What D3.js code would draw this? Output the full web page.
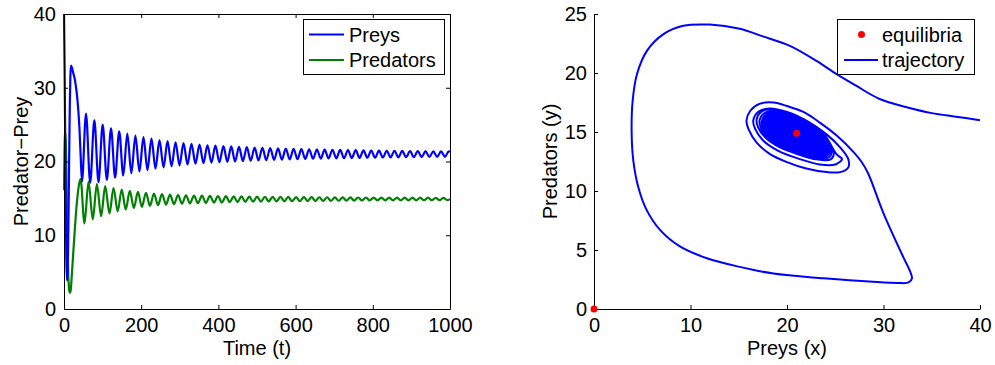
<!DOCTYPE html>
<html>
<head>
<meta charset="utf-8">
<script src="https://cdn.jsdelivr.net/npm/d3@7"></script>
<style>
  body { margin: 0; background: #fff; }
  text { font-family: "Liberation Sans", Arial, Helvetica, sans-serif; }
</style>
</head>
<body>
<div id="chart"></div>
<script>
// ---- left panel: time series, read as start transient + peaks/troughs ----
const preyStartT = [0, 1.5, 3, 4.5, 6, 7.5, 9, 10.5, 12, 13.5, 15, 16.5, 18, 20, 24, 28.5, 33, 37, 40, 43];
const preyStartV = [40, 33, 24, 14, 7, 3.9, 4.6, 8, 14, 21, 27.5, 31.5, 33, 32.8, 32, 31, 29.3, 27, 24.5, 21];
const preyPeakT = [57, 78.6, 100.2, 121.8, 143, 164, 185, 205.8, 226.6, 247.4, 268.2, 289, 309.6, 330.3, 351, 371.6, 392.3, 413, 433.2, 453.4, 473.6, 493.8, 514, 534.2, 554.4, 574.6, 594.8, 615, 635.1, 655.2, 675.3, 695.4, 715.5, 735.6, 755.7, 775.8, 795.9, 816, 836.1, 856.2, 876.3, 896.4, 916.5, 936.6, 956.7, 976.8, 996.9];
const preyPeakV = [26.5, 25.6, 25.0, 24.5, 24.1, 23.8, 23.5, 23.3, 23.1, 22.9, 22.75, 22.6, 22.5, 22.4, 22.3, 22.2, 22.15, 22.1, 22.05, 22.0, 21.95, 21.9, 21.86, 21.82, 21.78, 21.75, 21.72, 21.69, 21.66, 21.63, 21.61, 21.59, 21.57, 21.55, 21.53, 21.51, 21.49, 21.48, 21.46, 21.45, 21.43, 21.42, 21.41, 21.4, 21.39, 21.38, 21.37];
const preyTroughT = [46.6, 67.8, 89.4, 111, 132.4, 153.5, 174.5, 195.4, 216.2, 237, 257.8, 278.6, 299.3, 320, 340.6, 361.3, 382, 402.6, 423.1, 443.3, 463.5, 483.7, 503.9, 524.1, 544.3, 564.5, 584.7, 604.9, 625, 645.1, 665.2, 685.3, 705.4, 725.5, 745.6, 765.7, 785.8, 805.9, 826, 846.1, 866.2, 886.3, 906.4, 926.5, 946.6, 966.7, 986.8];
const preyTroughV = [17.3, 17.1, 17.2, 17.5, 17.8, 18.1, 18.4, 18.65, 18.85, 19.05, 19.2, 19.35, 19.48, 19.6, 19.7, 19.78, 19.85, 19.9, 19.95, 20.0, 20.05, 20.1, 20.14, 20.18, 20.22, 20.25, 20.28, 20.31, 20.34, 20.37, 20.39, 20.41, 20.43, 20.45, 20.47, 20.49, 20.51, 20.52, 20.54, 20.55, 20.57, 20.58, 20.59, 20.6, 20.61, 20.62, 20.63];
const preyEnd = [1000, 21.3];

const predStartT = [0, 1, 2.5, 3.5, 5, 6.5, 8, 9.5, 11, 13, 15, 17, 20, 23, 26, 29, 32, 35, 38, 43];
const predStartV = [16.1, 20.5, 23.6, 24.0, 22, 17.5, 12, 7.5, 4.6, 2.8, 2.2, 2.4, 4.4, 6.8, 9.2, 11.5, 13.6, 15.3, 16.6, 17.6];
const predPeakT = [63.5, 85.1, 106.7, 128.3, 149.5, 170.5, 191.5, 212.3, 233.1, 253.9, 274.7, 295.5, 316.1, 336.8, 357.5, 378.1, 398.8, 419.5, 439.7, 459.9, 480.1, 500.3, 520.5, 540.7, 560.9, 581.1, 601.3, 621.5, 641.6, 661.7, 681.8, 701.9, 722, 742.1, 762.2, 782.3, 802.4, 822.5, 842.6, 862.7, 882.8, 902.9, 923, 943.1, 963.2, 983.3];
const predPeakV = [17.25, 16.95, 16.65, 16.4, 16.2, 16.02, 15.88, 15.76, 15.66, 15.58, 15.51, 15.45, 15.42, 15.39, 15.36, 15.34, 15.32, 15.3, 15.28, 15.27, 15.25, 15.24, 15.22, 15.21, 15.2, 15.19, 15.18, 15.17, 15.16, 15.15, 15.15, 15.14, 15.13, 15.13, 15.12, 15.12, 15.11, 15.11, 15.1, 15.1, 15.1, 15.09, 15.09, 15.09, 15.08, 15.08];
const predTroughT = [53, 74.6, 96.2, 117.8, 139, 160, 181, 201.8, 222.6, 243.4, 264.2, 285, 305.6, 326.3, 347, 367.6, 388.3, 409, 429.2, 449.4, 469.6, 489.8, 510, 530.2, 550.4, 570.6, 590.8, 611, 631.1, 651.2, 671.3, 691.4, 711.5, 731.6, 751.7, 771.8, 791.9, 812, 832.1, 852.2, 872.3, 892.4, 912.5, 932.6, 952.7, 972.8, 992.9];
const predTroughV = [11.6, 12.15, 12.6, 12.95, 13.25, 13.5, 13.7, 13.85, 13.98, 14.08, 14.16, 14.23, 14.27, 14.32, 14.36, 14.4, 14.43, 14.45, 14.48, 14.5, 14.52, 14.54, 14.56, 14.58, 14.6, 14.61, 14.62, 14.63, 14.64, 14.65, 14.66, 14.67, 14.68, 14.69, 14.7, 14.71, 14.71, 14.72, 14.72, 14.73, 14.73, 14.74, 14.74, 14.75, 14.75, 14.75, 14.76];
const predEnd = [1000, 14.9];

const timeTicks = [0, 200, 400, 600, 800, 1000];
const popTicks = [0, 10, 20, 30, 40];

// ---- right panel: phase plane ----
const eqX = [0, 21.0];
const eqY = [0, 14.9];
// traced trajectory: start at (40,16), the big excursion and the first two loops
const trajectory = [
  [40.0,16.0],[37.5,16.3],[35.0,16.6],[32.4,17.1],[29.6,17.8],[27.2,18.9],[25.15,19.9],[23.1,21.0],
  [20.3,22.3],[17.5,23.1],[15.1,23.75],[12.0,24.1],[9.25,24.0],[7.2,23.3],[5.5,21.9],[4.45,19.9],
  [4.0,17.6],[3.9,15.0],[4.07,12.6],[4.6,10.3],[5.45,8.4],[6.84,6.7],[8.9,5.3],[11.7,4.3],
  [15.1,3.57],[18.6,3.0],[23.8,2.6],[28.9,2.3],[31.6,2.2],[32.6,2.25],[32.95,2.6],[32.7,3.3],
  [32.05,4.4],[30.0,8.1],[28.4,11.5],[27.7,12.5],[26.9,13.3],[25.15,14.7],[23.4,15.8],[21.7,16.7],
  [20.0,17.2],[18.6,17.5],[17.2,17.4],[16.2,16.8],[15.8,15.96],[16.0,15.26],[16.86,14.1],[18.2,13.15],
  [20.0,12.45],[22.0,11.9],[24.1,11.6],[25.5,11.6],[26.35,12.0],[26.35,12.7],[25.5,13.7],[24.1,14.8],
  [22.0,15.96],[20.0,16.7],[18.2,17.0],[17.0,16.7],[16.5,15.96],[16.7,15.26],[17.5,14.3],[19.1,13.4],
  [21.35,12.7],[23.4,12.25],[25.0,12.25],[25.7,12.7]
];
// inner loops: one loop outline (per unit prey amplitude), and the loop sizes
const loopCenter = [21.0, 14.8];
const loopShapeX = [1.0, 0.65, 0.2, -0.24, -0.63, -0.89, -1.0, -0.96, -0.78, -0.43, 0.05, 0.5, 0.85];
const loopShapeY = [-0.41, 0.04, 0.30, 0.455, 0.52, 0.455, 0.30, 0.14, -0.065, -0.26, -0.41, -0.51, -0.51];
const loopAmp = [4.15, 3.85, 3.62, 3.45, 3.3, 3.15, 3.0, 2.82, 2.64, 2.46, 2.28, 2.1, 1.92, 1.74, 1.56, 1.38, 1.2, 1.02, 0.85, 0.68, 0.52, 0.38];

const preyTicks = [0, 10, 20, 30, 40];
const predTicks = [0, 5, 10, 15, 20, 25];

// ---------------------------------------------------------------
const W = 995, H = 365, FS = 20;
const svg = d3.select("#chart").append("svg").attr("width", W).attr("height", H);

function merge(ts, vs, end) {
  const pts = [];
  ts.forEach((arr, i) => arr.forEach((t, j) => pts.push([t, vs[i][j]])));
  pts.push(end);
  return pts.sort((a, b) => a[0] - b[0]);
}
function styleAxis(g) {
  g.selectAll("path, line").attr("stroke", "#000");
  g.selectAll("text").attr("font-size", FS).attr("fill", "#000")
    .attr("font-family", "Liberation Sans, Arial, Helvetica, sans-serif");
}
const fmt = d3.format("d");

// left panel
const L = {left: 64, right: 450, top: 14, bottom: 309};
const xT = d3.scaleLinear().domain([0, 1000]).range([L.left, L.right]);
const yP = d3.scaleLinear().domain([0, 40]).range([L.bottom, L.top]);

const preyPts = merge([preyStartT, preyPeakT, preyTroughT], [preyStartV, preyPeakV, preyTroughV], preyEnd);
const predPts = merge([predStartT, predPeakT, predTroughT], [predStartV, predPeakV, predTroughV], predEnd);

const lineT = d3.line().x(d => xT(d[0])).y(d => yP(d[1])).curve(d3.curveMonotoneX);

svg.append("defs").append("clipPath").attr("id", "clipL")
  .append("rect").attr("x", L.left - 1).attr("y", L.top - 2)
  .attr("width", L.right - L.left + 1).attr("height", L.bottom - L.top + 2);

svg.append("path").datum(predPts).attr("clip-path", "url(#clipL)")
  .attr("fill", "none").attr("stroke", "#008000").attr("stroke-width", 2.2)
  .attr("stroke-linejoin", "round").attr("d", lineT);
svg.append("path").datum(preyPts).attr("clip-path", "url(#clipL)")
  .attr("fill", "none").attr("stroke", "#0000ff").attr("stroke-width", 2.2)
  .attr("stroke-linejoin", "round").attr("d", lineT);

svg.append("g").attr("transform", `translate(0,${L.bottom})`)
  .call(d3.axisBottom(xT).tickValues(timeTicks).tickFormat(fmt).tickSizeInner(-4).tickSizeOuter(0).tickPadding(9))
  .call(styleAxis);
svg.append("g").attr("transform", `translate(0,${L.top})`)
  .call(d3.axisTop(xT).tickValues(timeTicks).tickSizeInner(-4).tickSizeOuter(0).tickFormat(""))
  .call(styleAxis);
svg.append("g").attr("transform", `translate(${L.left},0)`)
  .call(d3.axisLeft(yP).tickValues(popTicks).tickFormat(fmt).tickSizeInner(-4).tickSizeOuter(0).tickPadding(8))
  .call(styleAxis);
svg.append("g").attr("transform", `translate(${L.right},0)`)
  .call(d3.axisRight(yP).tickValues(popTicks).tickSizeInner(-4).tickSizeOuter(0).tickFormat(""))
  .call(styleAxis);

svg.append("text").attr("x", (L.left + L.right) / 2).attr("y", 355)
  .attr("text-anchor", "middle").attr("font-size", FS).text("Time (t)");
svg.append("text").attr("transform", `translate(28,${(L.top + L.bottom) / 2}) rotate(-90)`)
  .attr("text-anchor", "middle").attr("font-size", FS).text("Predator\u2212Prey");

// legend left
const lgL = svg.append("g");
lgL.append("rect").attr("x", 303.5).attr("y", 19.5).attr("width", 141).attr("height", 55)
  .attr("fill", "#fff").attr("stroke", "#000").attr("stroke-width", 1);
[["Preys", "#0000ff", 34.5, 41.5], ["Predators", "#008000", 60, 66.7]].forEach(([t, c, ly, ty]) => {
  lgL.append("line").attr("x1", 309).attr("x2", 344).attr("y1", ly).attr("y2", ly)
    .attr("stroke", c).attr("stroke-width", 2.2);
  lgL.append("text").attr("x", 349).attr("y", ty).attr("font-size", FS).text(t);
});

// right panel
const R = {left: 594, right: 980, top: 14, bottom: 309};
const xR = d3.scaleLinear().domain([0, 40]).range([R.left, R.right]);
const yR = d3.scaleLinear().domain([0, 25]).range([R.bottom, R.top]);

const spiral = trajectory.slice();
loopAmp.forEach(a => {
  loopShapeX.forEach((sx, i) => spiral.push([loopCenter[0] + a * sx, loopCenter[1] + a * loopShapeY[i]]));
});

const lineR = d3.line().x(d => xR(d[0])).y(d => yR(d[1])).curve(d3.curveCatmullRom.alpha(0.5));
svg.append("path").datum(spiral).attr("fill", "none").attr("stroke", "#0000ff")
  .attr("stroke-width", 2).attr("stroke-linejoin", "round").attr("d", lineR);

svg.append("g").attr("transform", `translate(0,${R.bottom})`)
  .call(d3.axisBottom(xR).tickValues(preyTicks).tickFormat(fmt).tickSizeInner(-4).tickSizeOuter(0).tickPadding(9))
  .call(styleAxis);
svg.append("g").attr("transform", `translate(${R.left},0)`)
  .call(d3.axisLeft(yR).tickValues(predTicks).tickFormat(fmt).tickSizeInner(-4).tickSizeOuter(0).tickPadding(7))
  .call(styleAxis);

svg.selectAll("circle.eq").data(eqX).join("circle").attr("class", "eq")
  .attr("cx", d => xR(d)).attr("cy", (d, i) => yR(eqY[i])).attr("r", 3.5).attr("fill", "#ff0000");

svg.append("text").attr("x", (R.left + R.right) / 2).attr("y", 355)
  .attr("text-anchor", "middle").attr("font-size", FS).text("Preys (x)");
svg.append("text").attr("transform", `translate(557,${(R.top + R.bottom) / 2}) rotate(-90)`)
  .attr("text-anchor", "middle").attr("font-size", FS).text("Predators (y)");

// legend right
const lgR = svg.append("g");
lgR.append("rect").attr("x", 837.5).attr("y", 19.5).attr("width", 137).attr("height", 55)
  .attr("fill", "#fff").attr("stroke", "#000").attr("stroke-width", 1);
lgR.append("circle").attr("cx", 861.5).attr("cy", 34.5).attr("r", 3.5).attr("fill", "#ff0000");
lgR.append("text").attr("x", 882).attr("y", 41.5).attr("font-size", FS).text("equilibria");
lgR.append("line").attr("x1", 844).attr("x2", 878).attr("y1", 60).attr("y2", 60)
  .attr("stroke", "#0000ff").attr("stroke-width", 2);
lgR.append("text").attr("x", 882).attr("y", 66.5).attr("font-size", FS).text("trajectory");
</script>
</body>
</html>
